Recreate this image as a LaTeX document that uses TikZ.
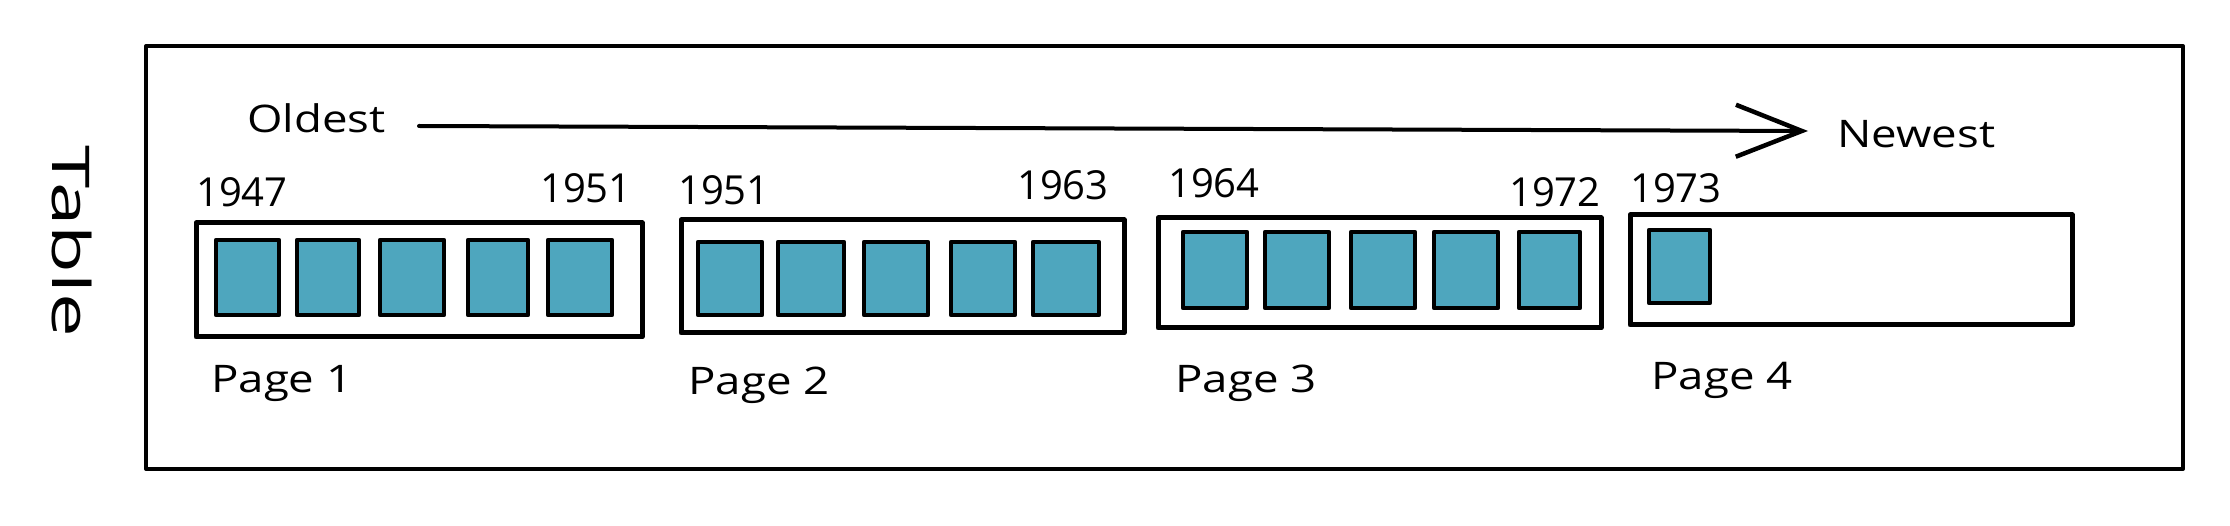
\documentclass[tikz,border=0pt]{standalone}
\usepackage{fontspec}
\setmainfont{Open Sans}
\usetikzlibrary{arrows.meta}
\definecolor{cellteal}{RGB}{78,166,190}
\begin{document}
\begin{tikzpicture}[x=1pt,y=-1pt,
  frame/.style={draw=black,line width=4pt,line join=round},
  pagebox/.style={draw=black,line width=5pt,fill=white,inner sep=0pt,line join=round},
  cell/.style={draw=black,line width=4.5pt,fill=cellteal,inner sep=0pt,line join=round},
  lbl/.style={inner sep=0pt,anchor=base west,font=\fontsize{38}{40}\selectfont\addfontfeature{FakeStretch=1.2}},
  yr/.style={inner sep=0pt,anchor=base west,font=\fontsize{40}{42}\selectfont},
  flow/.style={draw=black,line width=4pt,line cap=round,
    -{Straight Barb[length=66pt,width=52pt,line width=4.5pt]}}]
\fill[white] (0,0) rectangle (2230,526);
\useasboundingbox (0,0) rectangle (2230,526);
% outer frame
\node[frame,inner sep=0pt,minimum width=2037pt,minimum height=423pt] (table) at (1164.5,257.5) {};
\node[inner sep=0pt,rotate=-90,font=\fontsize{52}{54}\selectfont\addfontfeature{FakeStretch=1.5}] (tlabel) at (72,241) {Table};
% arrow
\node[lbl] (oldest) at (247,133) {Oldest};
\node[lbl] (newest) at (1837,148) {Newest};
\coordinate (as) at (419,126);
\coordinate (ae) at (1808,131);
\draw[flow] (as) -- (ae);
% page boxes
\node[pagebox,minimum width=446pt,minimum height=114pt] (p1) at (419,280) {};
\node[pagebox,minimum width=443pt,minimum height=113pt] (p2) at (902.5,276.5) {};
\node[pagebox,minimum width=443pt,minimum height=110pt] (p3) at (1379.5,273) {};
\node[pagebox,minimum width=442pt,minimum height=110pt] (p4) at (1851,270) {};
% cells page 1
\foreach \n/\a/\b in {1/216/279,2/297/359,3/380/444,4/468/528,5/548/612}
  \node[cell,minimum width={(\b-\a)*1pt},minimum height=75pt] (c1\n) at ({(\a+\b)/2},277.5) {};
% cells page 2
\foreach \n/\a/\b in {1/698/762,2/778/844,3/864/928,4/951/1015,5/1033/1099}
  \node[cell,minimum width={(\b-\a)*1pt},minimum height=73pt] (c2\n) at ({(\a+\b)/2},278.5) {};
% cells page 3
\foreach \n/\a/\b in {1/1183/1247,2/1265/1329,3/1351/1415,4/1434/1498,5/1519/1580}
  \node[cell,minimum width={(\b-\a)*1pt},minimum height=76pt] (c3\n) at ({(\a+\b)/2},270) {};
% cell page 4
\node[cell,minimum width=61pt,minimum height=73pt] (c41) at (1679.5,266.5) {};
% year labels
\node[yr] (y1a) at (196,207) {1947};
\node[yr] (y1b) at (540,203) {1951};
\node[yr] (y2a) at (678,205) {1951};
\node[yr] (y2b) at (1017,200) {1963};
\node[yr] (y3a) at (1168,198) {1964};
\node[yr] (y3b) at (1509,207) {1972};
\node[yr] (y4a) at (1630,203) {1973};
% page labels
\node[lbl] (l1) at (211,392) {Page 1};
\node[lbl] (l2) at (688,395) {Page 2};
\node[lbl] (l3) at (1175,392) {Page 3};
\node[lbl] (l4) at (1651,390) {Page 4};
\end{tikzpicture}
\end{document}
